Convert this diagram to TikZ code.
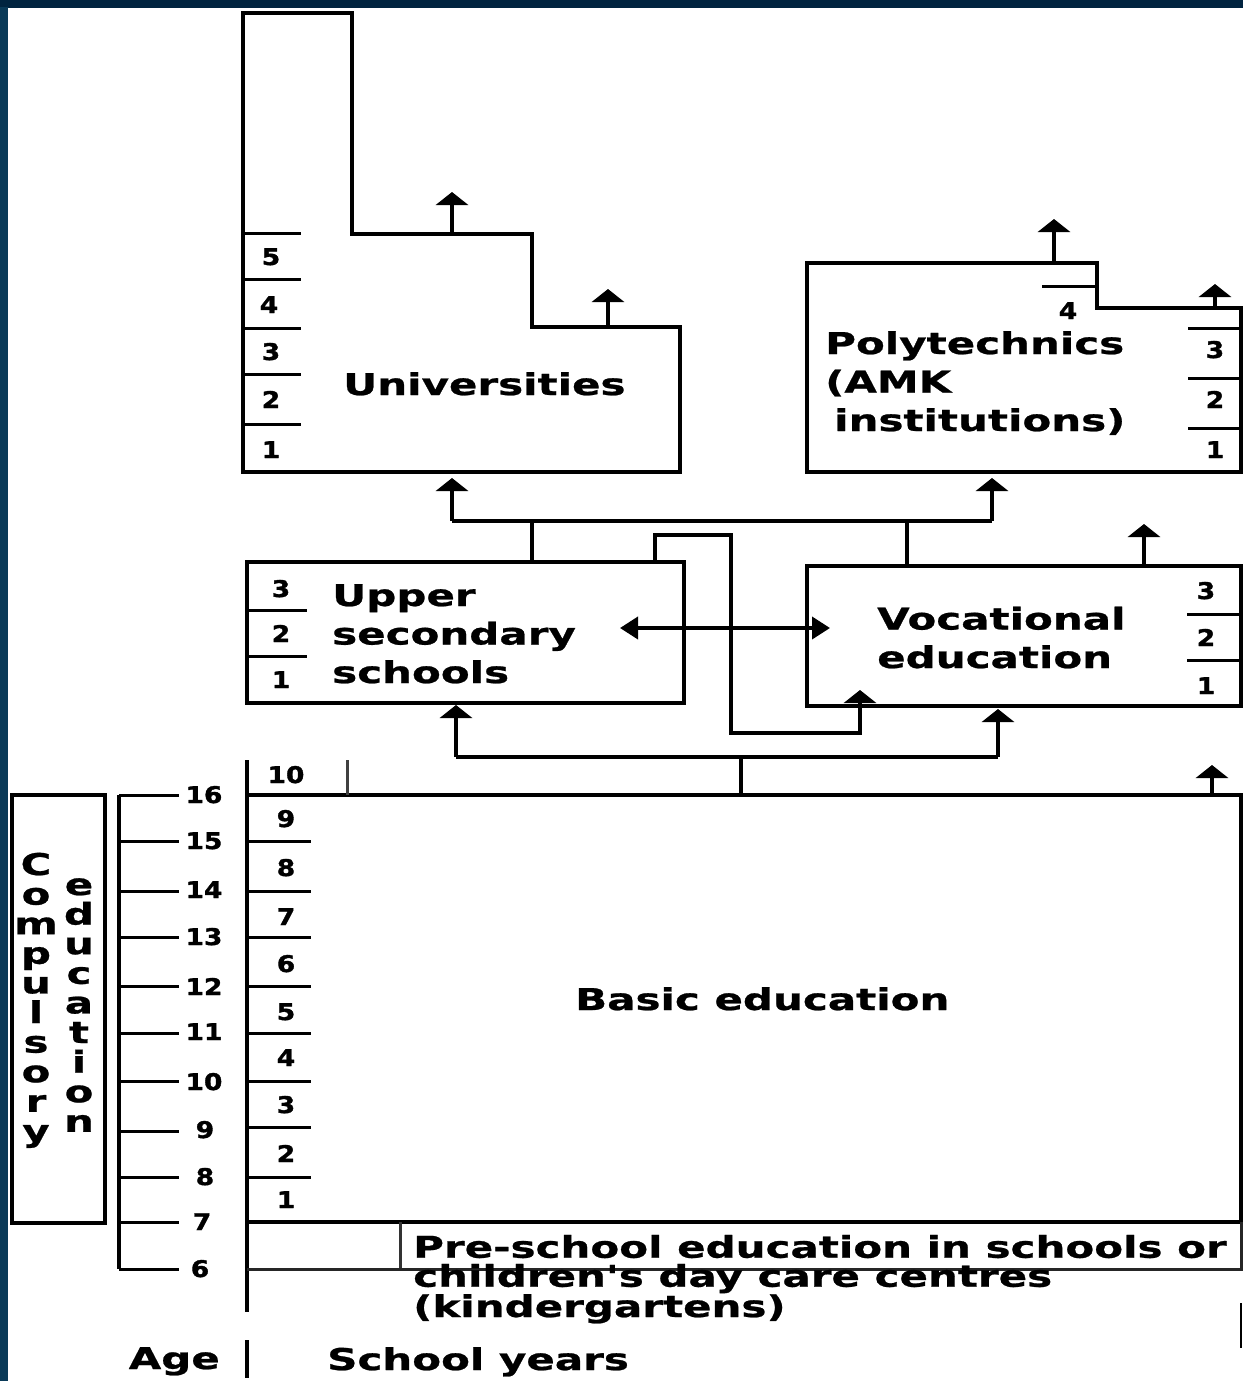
\documentclass[tikz,border=0pt]{standalone}
\usepackage{fontspec}
\setmainfont{DejaVu Sans}
\newfontfamily\widefont[FakeStretch=1.4, BoldFeatures={FakeBold=0.8}]{DejaVu Sans}
\newfontfamily\digitfont[FakeStretch=1.15, BoldFeatures={FakeBold=1.5}]{DejaVu Sans}
\usetikzlibrary{arrows.meta}
\definecolor{navy}{HTML}{012440}
\definecolor{stripA}{HTML}{0A3A58}
\definecolor{stripB}{HTML}{0F4F9A}
\tikzset{
  ln/.style={line width=3.8pt},
  tk/.style={line width=3pt},
  lbl/.style={font=\widefont\bfseries\fontsize{30}{38.5}\selectfont, inner sep=0pt, anchor=base west, align=left},
  num/.style={font=\digitfont\bfseries\fontsize{23}{23}\selectfont, inner sep=0pt, anchor=base},
  uparr/.style={-{Triangle[width=32pt,length=13pt]}, line width=3.8pt},
  sidearr/.style={{Triangle[width=22pt,length=18pt]}-{Triangle[width=22pt,length=18pt]}, line width=3.8pt},
  boxnode/.style={draw, line width=3.8pt, inner sep=0pt, outer sep=0pt, anchor=north west},
  letter/.style={font=\widefont\bfseries\fontsize{30}{30}\selectfont, inner sep=0pt, anchor=base},
}
\begin{document}
\begin{tikzpicture}[x=1pt,y=-1pt]
\useasboundingbox (0,0) rectangle (1243,1381);
% background frame
\fill[navy] (0,0) rectangle (1243,1381);
\shade[top color=stripA, middle color=stripB, bottom color=stripA] (0,8) rectangle (8,1381);
\fill[white] (8,8) rectangle (1243,1381);

% ---------- Universities ----------
\draw[ln] (243,13) -- (352,13) -- (352,234) -- (532,234) -- (532,327) -- (680,327) -- (680,472) -- (243,472) -- cycle;
\foreach \y in {233,279,328,374,424} \draw[tk] (243,\y) -- (301,\y);
\node[num] (u5) at (271,265) {5};
\node[num] (u4) at (269,313) {4};
\node[num] (u3) at (271,360) {3};
\node[num] (u2) at (271,408) {2};
\node[num] (u1) at (271,458) {1};
\node[lbl] (uni) at (343,395) {Universities};
\coordinate (uniA) at (452,234); \coordinate (uniAt) at (452,192);
\coordinate (uniB) at (608,327); \coordinate (uniBt) at (608,289);
\draw[uparr] (uniA) -- (uniAt);
\draw[uparr] (uniB) -- (uniBt);

% ---------- Polytechnics ----------
\draw[ln] (807,263) -- (1097,263) -- (1097,308) -- (1241,308) -- (1241,472) -- (807,472) -- cycle;
\draw[tk] (1042,286) -- (1097,286);
\node[num] (p4) at (1068,319) {4};
\foreach \y in {328,378,428} \draw[tk] (1188,\y) -- (1241,\y);
\node[num] (p3) at (1215,358) {3};
\node[num] (p2) at (1215,408) {2};
\node[num] (p1) at (1215,458) {1};
\node[lbl] (poly) at (825,431) {Polytechnics\\(AMK\\\hspace*{0.3em}institutions)};
\coordinate (polA) at (1054,263); \coordinate (polAt) at (1054,219);
\coordinate (polB) at (1215,308); \coordinate (polBt) at (1215,284);
\draw[uparr] (polA) -- (polAt);
\draw[uparr] (polB) -- (polBt);

% ---------- Upper secondary ----------
\node[boxnode, minimum width=437pt, minimum height=141pt] (us) at (247,562) {};
\draw[tk] (247,610) -- (307,610);
\draw[tk] (247,656) -- (307,656);
\node[num] (s3) at (281,597) {3};
\node[num] (s2) at (281,642) {2};
\node[num] (s1) at (281,688) {1};
\node[lbl] (uslbl) at (332,683) {Upper\\secondary\\schools};

% ---------- Vocational ----------
\node[boxnode, minimum width=434pt, minimum height=140pt] (voc) at (807,566) {};
\draw[tk] (1187,614) -- (1241,614);
\draw[tk] (1187,660) -- (1241,660);
\node[num] (v3) at (1206,599) {3};
\node[num] (v2) at (1206,646) {2};
\node[num] (v1) at (1206,694) {1};
\node[lbl] (voclbl) at (877,668) {Vocational\\education};
\coordinate (vocA) at (1144,566); \coordinate (vocAt) at (1144,524);
\draw[uparr] (vocA) -- (vocAt);

% ---------- connectors to higher education ----------
\coordinate (usTop) at (532,562);
\coordinate (vocTop) at (907,566);
\coordinate (jL) at (452,521); \coordinate (jR) at (992,521);
\coordinate (uniIn) at (452,478); \coordinate (polIn) at (992,478);
\draw[ln] (usTop) -- (532,521);
\draw[ln] (vocTop) -- (907,521);
\draw[ln] (jL) -- (jR);
\draw[uparr] (jL) -- (uniIn);
\draw[uparr] (jR) -- (polIn);

% cross connector from upper secondary to vocational
\coordinate (usTop2) at (655,562);
\coordinate (vocIn) at (860,690);
\draw[uparr] (usTop2) -- (655,535) -- (731,535) -- (731,733) -- (860,733) -- (vocIn);
% double arrow
\coordinate (dL) at (620,628); \coordinate (dR) at (830,628);
\draw[sidearr] (dL) -- (dR);

% ---------- Basic education ----------
\draw[ln] (247,795) -- (1241,795) -- (1241,1222);
\draw[ln] (247,1222) -- (1241,1222);
\draw[ln] (247,760) -- (247,1312);
\draw[tk, black!75] (347,760) -- (347,795);
\node[num] (b10) at (286,783) {10};
\foreach \y in {841,891,937,986,1033,1081,1127,1177} \draw[tk] (247,\y) -- (311,\y);
\foreach \n/\y in {9/827,8/876,7/925,6/972,5/1020,4/1066,3/1113,2/1162,1/1208}
  \node[num] (b\n) at (286,\y) {\n};
\node[lbl] (basic) at (575,1010) {Basic education};
\coordinate (bTop) at (741,795);
\coordinate (bJ) at (741,757);
\coordinate (bL) at (456,757); \coordinate (bR) at (998,757);
\coordinate (usIn) at (456,705); \coordinate (vocIn2) at (998,709);
\draw[ln] (bTop) -- (bJ);
\draw[ln] (bL) -- (bR);
\draw[uparr] (bL) -- (usIn);
\draw[uparr] (bR) -- (vocIn2);
\coordinate (bA) at (1212,795); \coordinate (bAt) at (1212,765);
\draw[uparr] (bA) -- (bAt);

% ---------- Pre-school ----------
\draw[tk, black!80] (400,1222) -- (400,1269);
\draw[tk, black!85] (247,1269) -- (1241,1269) -- (1241,1222);
\draw[line width=2pt] (1241,1303) -- (1241,1348);
\node[lbl, font=\widefont\bfseries\fontsize{30}{29}\selectfont] (pre) at (413,1317)
  {Pre-school education in schools or\\children's day care centres\\(kindergartens)};

% ---------- Age scale ----------
\draw[ln] (119,795) -- (119,1269);
\foreach \y in {795,841,891,937,986,1033,1081,1131,1177,1222,1269} \draw[tk] (119,\y) -- (179,\y);
\foreach \n/\x/\y in {16/204/803,15/204/849,14/204/898,13/204/945,12/204/995,11/204/1040,10/204/1090,9/205/1138,8/205/1185,7/202/1230,6/200/1277}
  \node[num] (a\n) at (\x,\y) {\n};

% ---------- Compulsory education ----------
\draw[ln] (12,795) rectangle (105,1223);
\foreach \c [count=\i] in {C,o,m,p,u,l,s,o,r,y}
  \node[letter] (comp\i) at (36,{875+29.6*(\i-1)}) {\c};
\foreach \c [count=\i] in {e,d,u,c,a,t,i,o,n}
  \node[letter] (edu\i) at (79,{895+29.6*(\i-1)}) {\c};

% ---------- footer ----------
\node[lbl, anchor=base east] (age) at (220,1369) {Age};
\draw[ln] (247,1340) -- (247,1378);
\node[lbl] (years) at (327,1370) {School years};
\end{tikzpicture}
\end{document}
